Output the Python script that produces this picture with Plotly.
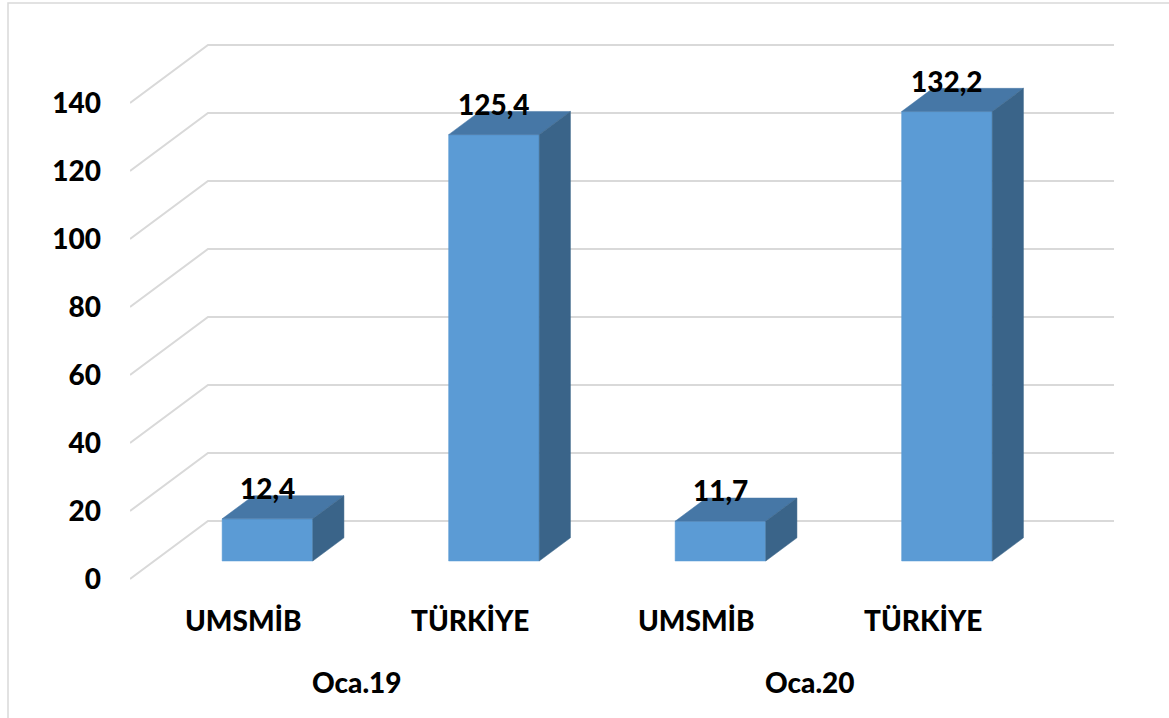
import plotly.graph_objects as go

# ---- data ----
periods = ["Oca.19", "Oca.20"]
categories = ["UMSMİB", "TÜRKİYE", "UMSMİB", "TÜRKİYE"]
values = [12.4, 125.4, 11.7, 132.2]
value_labels = ["12,4", "125,4", "11,7", "132,2"]
tick_values = [0, 20, 40, 60, 80, 100, 120, 140]

# ---- geometry / style ----
W, H = 1169, 718
L, R, T, B = 130, 1114, 20, 698          # plot area in pixels
PX_PER_CAT = 226.5
PX_PER_VAL = 3.4
DX = 78 / PX_PER_CAT                     # full depth offset, x units
DY = 58 / PX_PER_VAL                     # full depth offset, value units
TF, TB = 0.31, 0.71                      # bar front/back depth fraction
BAR_W = 0.40
FRONT, TOP, SIDE = "#5B9BD5", "#4677A6", "#3A6489"
GRID = "#D9D9D9"
FONT = dict(family="Lato", size=28, color="black", weight=900)

x_min = -0.5
x_max = x_min + (R - L) / PX_PER_CAT
y_zero_px = 579
y_max = (y_zero_px - T) / PX_PER_VAL
y_min = -(B - y_zero_px) / PX_PER_VAL
n = len(categories)

fig = go.Figure()

# gridlines (side wall diagonal + back wall horizontal)
for v in tick_values:
    fig.add_trace(go.Scatter(
        x=[x_min, x_min + DX, n - 0.5 + DX],
        y=[v, v + DY, v + DY],
        mode="lines", line=dict(color=GRID, width=2),
        hoverinfo="skip", showlegend=False))

yf, yb = TF * DY, TB * DY
xs_f = [i + TF * DX for i in range(n)]
dd = (TB - TF) * DX


def face(xs, ys, color):
    fig.add_trace(go.Scatter(
        x=xs, y=ys, mode="lines", fill="toself", fillcolor=color,
        line=dict(width=0.5, color=color), hoverinfo="skip",
        showlegend=False))


for xc, v in zip(xs_f, values):
    xl, xr = xc - BAR_W / 2, xc + BAR_W / 2
    # front face
    face([xl, xr, xr, xl, xl], [yf, yf, v + yf, v + yf, yf], FRONT)
    # top face
    face([xl, xr, xr + dd, xl + dd, xl],
         [v + yf, v + yf, v + yb, v + yb, v + yf], TOP)
    # side face
    face([xr, xr, xr + dd, xr + dd, xr],
         [yf, v + yf, v + yb, yb, yf], SIDE)

annotations = []
# value labels
for xc, v, lab in zip(xs_f, values, value_labels):
    annotations.append(dict(x=xc, y=v + yf, text=lab, showarrow=False,
                            xanchor="center", yanchor="middle", yshift=31,
                            font=FONT))
# category labels
y_cat = -(620 - y_zero_px) / PX_PER_VAL
for i, c in enumerate(categories):
    annotations.append(dict(x=i, y=y_cat, text=c, showarrow=False,
                            xanchor="center", yanchor="middle", font=FONT))
# period labels
y_per = -(682 - y_zero_px) / PX_PER_VAL
for j, p in enumerate(periods):
    annotations.append(dict(x=2 * j + 0.5, y=y_per, text=p, showarrow=False,
                            xanchor="center", yanchor="middle", font=FONT))

pw, ph = R - L, B - T
fig.add_shape(type="rect", xref="paper", yref="paper",
              x0=(8 - L) / pw, x1=(W + 10 - L) / pw,
              y0=(B - (H + 10)) / ph, y1=(B - 3) / ph,
              line=dict(color=GRID, width=1.5), layer="below")

fig.update_layout(
    width=W, height=H,
    margin=dict(l=L, r=W - R, t=T, b=H - B, pad=0),
    paper_bgcolor="white", plot_bgcolor="white",
    xaxis=dict(range=[x_min, x_max], visible=False, fixedrange=True),
    yaxis=dict(range=[y_min, y_max], tickvals=tick_values,
               showgrid=False, zeroline=False, showline=False,
               ticks="", ticklabelstandoff=28, tickfont=FONT,
               fixedrange=True),
    annotations=annotations,
    showlegend=False,
)

fig.write_html(
    "out.html",
    config={"displayModeBar": False},
    post_script="document.body.style.margin='0';document.body.style.overflow='hidden';",
)
